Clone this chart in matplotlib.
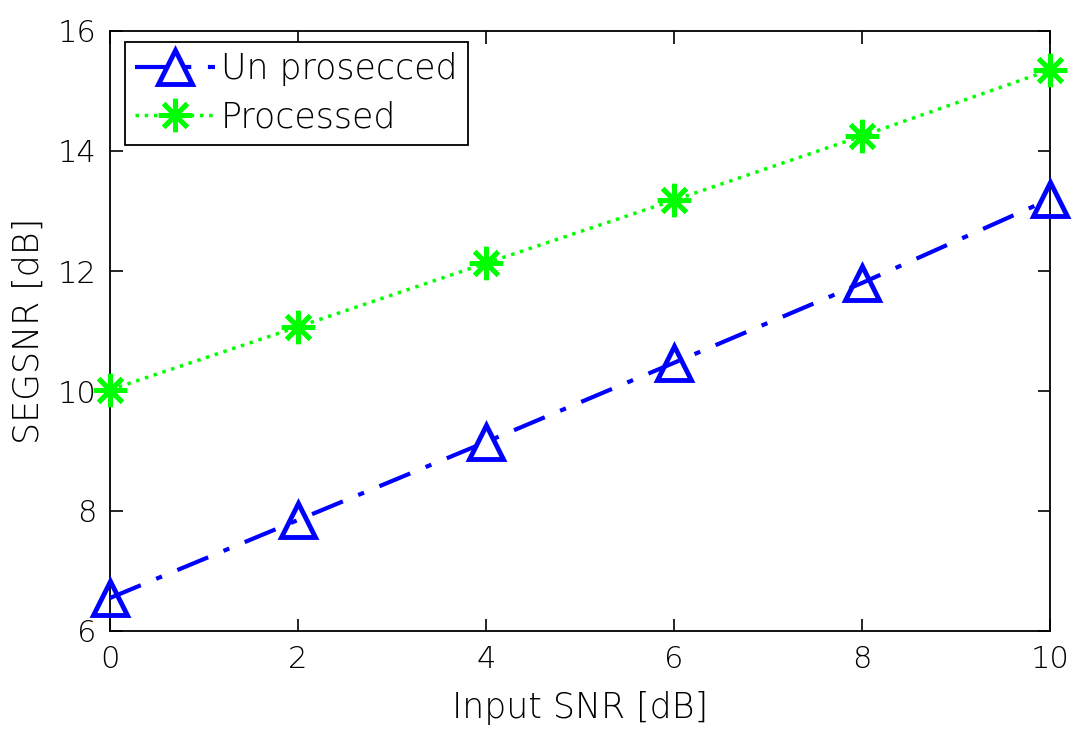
import matplotlib
matplotlib.use("Agg")
import matplotlib.pyplot as plt

input_snr = [0, 2, 4, 6, 8, 10]
unprocessed = [6.55, 7.85, 9.15, 10.47, 11.8, 13.2]
processed = [10.02, 11.07, 12.13, 13.18, 14.25, 15.35]
labels = ["Un prosecced", "Processed"]

plt.rcParams['font.family'] = ['DejaVu Sans']
plt.rcParams['font.weight'] = 'light'
plt.rcParams['axes.labelweight'] = 'light'
fig = plt.figure(figsize=(10.77, 7.29), dpi=100)
ax = fig.add_axes([110/1077, (729-631)/729, 940/1077, 600/729])

ax.plot(input_snr, unprocessed, linestyle='-.', color=(0, 0, 1), linewidth=3,
        marker='^', markersize=25, markerfacecolor='none', markeredgewidth=3.5,
        markeredgecolor=(0, 0, 1), label=labels[0], dashes=(8, 4, 1.5, 4),
        clip_on=False, zorder=3)
ax.plot(input_snr, processed, linestyle=':', color=(0, 1, 0), linewidth=2.5,
        marker=(8, 2, 0), markersize=24, markeredgewidth=3.5,
        markeredgecolor=(0, 1, 0), label=labels[1], clip_on=False, zorder=3)

ax.set_xlim(0, 10)
ax.set_ylim(6, 16)
ax.set_xticks([0, 2, 4, 6, 8, 10])
ax.set_yticks([6, 8, 10, 12, 14, 16])
ax.tick_params(direction='in', top=True, right=True, length=9, width=1.2,
               labelsize=22, pad=10, colors='black')
for s in ax.spines.values():
    s.set_linewidth(1.3)
ax.set_xlabel("Input SNR [dB]", fontsize=25, labelpad=12)
ax.set_ylabel("SEGSNR [dB]", fontsize=25, labelpad=8)

leg = ax.legend(loc='upper left', fontsize=25, frameon=True, fancybox=False,
                edgecolor='black', framealpha=1, handlelength=2.3,
                handletextpad=0.15, borderpad=0.3, labelspacing=0.4,
                borderaxespad=0, bbox_to_anchor=(0.016, 0.982))
leg.get_frame().set_linewidth(1.3)

fig.savefig("out.png", dpi=100)
